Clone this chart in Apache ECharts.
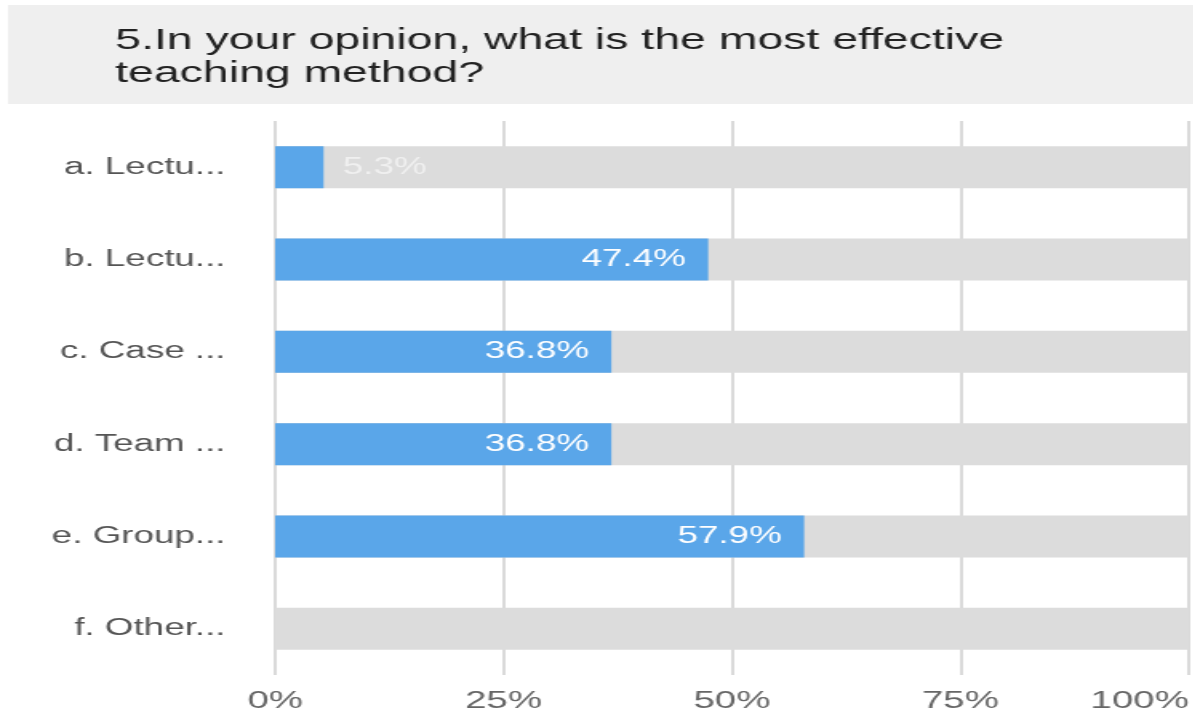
<!DOCTYPE html>
<html>
<head>
<meta charset="utf-8">
<script src="https://cdn.jsdelivr.net/npm/echarts@6/dist/echarts.min.js"></script>
<style>
  html, body { margin: 0; padding: 0; background: #fff; overflow: hidden; }
  /* the reference is stretched sideways, so draw narrow and widen the canvas */
  #main { width: 746px; height: 717px; transform: scaleX(1.6); transform-origin: 0 0; }
</style>
</head>
<body>
<div id="main"></div>
<script>
const titleText = "5.In your opinion, what is the most effective\nteaching method?";
const categories = ["a. Lectu...", "b. Lectu...", "c. Case ...", "d. Team ...", "e. Group...", "f. Other..."];
const percents = [5.3, 47.4, 36.8, 36.8, 57.9, 0];
const tickLabels = ["0%", "25%", "50%", "75%", "100%"];

const font = "Liberation Sans, Arial, sans-serif";
const chart = echarts.init(document.getElementById("main"));

chart.setOption({
  animation: false,
  graphic: [{
    type: "rect",
    shape: { x: 5, y: 5, width: 741, height: 99 },
    style: { fill: "#efefef" },
    z: -10
  }],
  title: {
    text: titleText,
    left: 67,
    top: 19,
    textStyle: { fontFamily: font, fontSize: 29, fontWeight: "normal", color: "#222", lineHeight: 33 }
  },
  grid: { left: 172, top: 121, width: 573, height: 554, containLabel: false },
  xAxis: {
    type: "value",
    min: 0, max: 100, interval: 25,
    axisLine: { show: false },
    axisTick: { show: false },
    splitLine: { lineStyle: { color: "#dadada", width: 2 } },
    axisLabel: {
      fontFamily: font, fontSize: 24, color: "#666", margin: 14,
      alignMaxLabel: "right",
      formatter: v => tickLabels[v / 25]
    }
  },
  yAxis: {
    type: "category",
    inverse: true,
    data: categories,
    axisLine: { show: false },
    axisTick: { show: false },
    axisLabel: { fontFamily: font, fontSize: 23, color: "#555", margin: 31 }
  },
  series: [{
    type: "bar",
    barWidth: 42,
    data: percents.map(v => ({
      value: v,
      label: v < 10
        ? { show: v > 0, position: "right", distance: 12, color: "#f0f0f0" }
        : { show: true, position: "insideRight", distance: 14, color: "#fff" }
    })),
    showBackground: true,
    backgroundStyle: { color: "#dcdcdc" },
    itemStyle: { color: "#5aa6e9" },
    label: {
      fontFamily: font, fontSize: 23,
      formatter: p => p.value.toFixed(1) + "%"
    }
  }]
});
</script>
</body>
</html>
